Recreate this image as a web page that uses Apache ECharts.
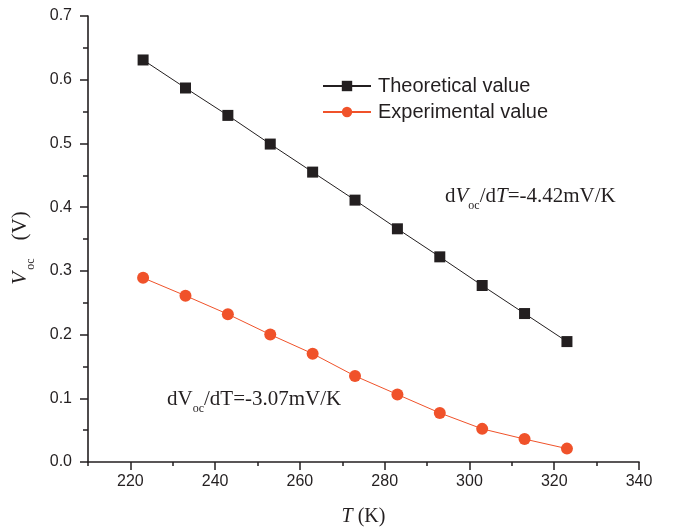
<!DOCTYPE html>
<html><head><meta charset="utf-8">
<script src="https://cdn.jsdelivr.net/npm/echarts@6/dist/echarts.min.js"></script>
<style>html,body{margin:0;padding:0;background:#fff}#c{width:673px;height:528px}</style>
</head><body><div id="c"></div>
<script>
// Data
const temperatures = [223, 233, 243, 253, 263, 273, 283, 293, 303, 313, 323];
const theoreticalVoc = [0.631, 0.587, 0.544, 0.499, 0.455, 0.411, 0.366, 0.322, 0.277, 0.233, 0.189];
const experimentalVoc = [0.289, 0.261, 0.232, 0.200, 0.170, 0.135, 0.106, 0.077, 0.052, 0.036, 0.021];
const seriesNames = ['Theoretical value', 'Experimental value'];
const xRange = [210, 340];
const yRange = [0, 0.7];

const ink = '#231f20';
const orange = '#f0522a';
const serif = '"Liberation Serif","Times New Roman",serif';
const sans = '"Liberation Sans",Arial,sans-serif';

const pairs = (xs, ys) => xs.map((x, i) => [x, ys[i]]);

const chart = echarts.init(document.getElementById('c'), null, {renderer: 'canvas'});
chart.setOption({
  backgroundColor: '#fff',
  animation: false,
  grid: {left: 88, right: 34, top: 16, bottom: 66, containLabel: false, outerBoundsMode: 'none'},
  legend: {
    orient: 'vertical', left: 322, top: 76, padding: 0,
    itemWidth: 48, itemHeight: 13, itemGap: 6,
    textStyle: {fontFamily: sans, fontSize: 20, color: ink, lineHeight: 20, padding: [0, 0, 0, 2]},
    data: seriesNames
  },
  xAxis: [{
    type: 'value', min: xRange[0], max: xRange[1], minInterval: 20, maxInterval: 20, splitNumber: 6,
    name: '{i|T}{r| (K)}', nameLocation: 'middle', nameGap: 45,
    nameTextStyle: {rich: {
      i: {fontFamily: serif, fontStyle: 'italic', fontSize: 20, color: ink},
      r: {fontFamily: serif, fontSize: 20, color: ink}
    }},
    axisLine: {show: true, onZero: false, lineStyle: {color: ink, width: 1.6}},
    axisTick: {show: true, inside: false, length: 8, lineStyle: {color: ink, width: 1.5}},
    axisLabel: {show: true, showMinLabel: false, margin: 12, fontFamily: sans, fontSize: 16, color: ink},
    splitLine: {show: false}
  }, {
    type: 'value', position: 'bottom', min: xRange[0], max: xRange[1], interval: 10,
    axisLine: {show: false},
    axisTick: {show: true, inside: false, length: 4, lineStyle: {color: ink, width: 1.5}},
    axisLabel: {show: false},
    splitLine: {show: false}
  }],
  yAxis: {
    type: 'value', min: yRange[0], max: yRange[1], interval: 0.1,
    name: '{i|V}{s|oc}{r|(V)}', nameLocation: 'middle', nameGap: 51, nameRotate: 90,
    nameTextStyle: {padding: [0, 18, 0, 0], rich: {
      i: {fontFamily: serif, fontStyle: 'italic', fontSize: 21, color: ink, lineHeight: 34, verticalAlign: 'middle'},
      s: {fontFamily: serif, fontSize: 12, color: ink, lineHeight: 34, verticalAlign: 'bottom', padding: [0, 0, 0, 2]},
      r: {fontFamily: serif, fontSize: 21, color: ink, lineHeight: 34, verticalAlign: 'middle', padding: [0, 0, 0, 18]}
    }},
    axisLine: {show: true, lineStyle: {color: ink, width: 1.6}},
    axisTick: {show: true, inside: false, length: 8, lineStyle: {color: ink, width: 1.5}},
    minorTick: {show: true, splitNumber: 2, length: 5, lineStyle: {color: ink, width: 1.5}},
    axisLabel: {margin: 16, fontFamily: sans, fontSize: 16, color: ink, formatter: v => v.toFixed(1)},
    splitLine: {show: false}
  },
  series: [{
    name: seriesNames[0], type: 'line', xAxisIndex: 0,
    data: pairs(temperatures, theoreticalVoc),
    symbol: 'rect', symbolSize: 11,
    itemStyle: {color: ink},
    lineStyle: {color: ink, width: 1}
  }, {
    name: seriesNames[1], type: 'line', xAxisIndex: 0,
    data: pairs(temperatures, experimentalVoc),
    symbol: 'circle', symbolSize: 12,
    itemStyle: {color: orange},
    lineStyle: {color: orange, width: 1}
  }],
  graphic: [{
    type: 'text', left: 445, top: 186,
    style: {
      text: '{r|d}{i|V}{s|oc}{r|/d}{i|T}{r|=-4.42mV/K}',
      rich: {
        r: {fontFamily: serif, fontSize: 21, fill: ink, lineHeight: 30, verticalAlign: 'middle'},
        i: {fontFamily: serif, fontStyle: 'italic', fontSize: 21, fill: ink, lineHeight: 30, verticalAlign: 'middle'},
        s: {fontFamily: serif, fontSize: 12, fill: ink, lineHeight: 30, verticalAlign: 'bottom'}
      }
    }
  }, {
    type: 'text', left: 167, top: 389,
    style: {
      text: '{r|dV}{s|oc}{r|/dT=-3.07mV/K}',
      rich: {
        r: {fontFamily: serif, fontSize: 21, fill: ink, lineHeight: 30, verticalAlign: 'middle'},
        s: {fontFamily: serif, fontSize: 12, fill: ink, lineHeight: 30, verticalAlign: 'bottom'}
      }
    }
  }]
});
</script>
</body></html>
